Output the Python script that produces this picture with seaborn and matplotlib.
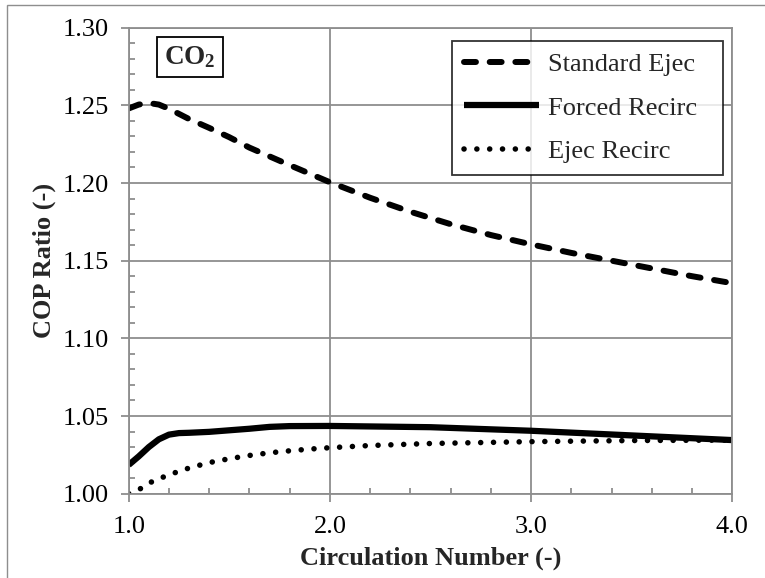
import matplotlib
matplotlib.use("Agg")
import matplotlib.pyplot as plt
import matplotlib.patches as mpatches
from matplotlib.ticker import MultipleLocator, FormatStrFormatter
import seaborn as sns

# Circulation number vs. COP ratio for CO2
std_x = [1.00, 1.05, 1.10, 1.15, 1.20, 1.30, 1.40, 1.50, 1.60, 1.80, 2.00,
         2.20, 2.40, 2.60, 2.80, 3.00, 3.20, 3.40, 3.60, 3.80, 4.00]
std_y = [1.2480, 1.2505, 1.2515, 1.2505, 1.2478, 1.2412, 1.2355, 1.2295, 1.2228,
         1.2115, 1.2005, 1.1905, 1.1815, 1.1735, 1.1665, 1.1605, 1.1550,
         1.1500, 1.1450, 1.1400, 1.1355]

forced_x = [1.00, 1.05, 1.10, 1.15, 1.20, 1.25, 1.30, 1.40, 1.50, 1.60, 1.70,
            1.80, 2.00, 2.50, 3.00, 3.50, 4.00]
forced_y = [1.0185, 1.0240, 1.0300, 1.0350, 1.0380, 1.0390, 1.0392, 1.0398,
            1.0408, 1.0418, 1.0430, 1.0435, 1.0436, 1.0428, 1.0405, 1.0375,
            1.0345]

ejrec_x = [1.00, 1.05, 1.10, 1.20, 1.30, 1.40, 1.50, 1.60, 1.70, 1.80, 1.90,
           2.00, 2.20, 2.50, 3.00, 3.50, 4.00]
ejrec_y = [1.0000, 1.0025, 1.0068, 1.0122, 1.0165, 1.0200, 1.0225, 1.0246,
           1.0263, 1.0276, 1.0287, 1.0296, 1.0310, 1.0323, 1.0335, 1.0342,
           1.0345]

series_labels = ["Standard Ejec", "Forced Recirc", "Ejec Recirc"]
x_ticks = [1.0, 2.0, 3.0, 4.0]

sns.set_theme(style="white")
plt.rcParams["font.family"] = ["Liberation Serif", "DejaVu Serif"]
plt.rcParams["mathtext.fontset"] = "custom"
plt.rcParams["mathtext.rm"] = "Liberation Serif"
plt.rcParams["mathtext.bf"] = "Liberation Serif:bold"

FS = 19
GRID = "#8e8e8e"

fig = plt.figure(figsize=(7.65, 5.78), dpi=100)
ax = fig.add_axes([0.1682, 0.1459, 0.9573 - 0.1682, 0.9521 - 0.1459])

sns.lineplot(x=std_x, y=std_y, ax=ax, color="black", lw=4.3,
             label=series_labels[0], sort=False)
line_std = ax.lines[-1]
line_std.set_dashes((2.0, 2.3))
line_std.set_dash_capstyle("round")

sns.lineplot(x=forced_x, y=forced_y, ax=ax, color="black", lw=4.5,
             label=series_labels[1], sort=False)
ax.lines[-1].set_solid_capstyle("butt")

sns.lineplot(x=ejrec_x, y=ejrec_y, ax=ax, color="black", lw=4.0,
             label=series_labels[2], sort=False)
line_dot = ax.lines[-1]
line_dot.set_dashes((0.01, 2.3))
line_dot.set_dash_capstyle("round")

ax.set_xlim(1.0, 4.0)
ax.set_ylim(1.00, 1.30)
ax.set_xticks(x_ticks)
ax.xaxis.set_major_formatter(FormatStrFormatter("%.1f"))
ax.xaxis.set_minor_locator(MultipleLocator(0.2))
ax.yaxis.set_major_locator(MultipleLocator(0.05))
ax.yaxis.set_major_formatter(FormatStrFormatter("%.2f"))
ax.yaxis.set_minor_locator(MultipleLocator(0.01))

ax.grid(True, which="major", color=GRID, lw=1.3)
ax.set_axisbelow(True)
for s in ax.spines.values():
    s.set_color(GRID)
    s.set_linewidth(1.3)

ax.tick_params(which="major", direction="out", length=6, width=1.3,
               color=GRID, labelsize=FS, labelcolor="black", pad=8)
ax.tick_params(axis="x", which="major", pad=10)
ax.tick_params(which="minor", direction="in", length=4.5, width=1.3,
               color=GRID)
ax.tick_params(axis="x", which="both", bottom=True, top=False)
ax.tick_params(axis="y", which="both", left=True, right=False)

ax.set_xlabel("Circulation Number (-)", fontsize=FS, fontweight="bold",
              labelpad=6)
ax.set_ylabel("COP Ratio (-)", fontsize=FS, fontweight="bold", labelpad=5)

# legend box spans a fixed region; entries are left aligned inside it
lx0, lx1 = 0.5356, 0.9846
ly1 = 0.9714
leg = ax.legend(loc="upper left", bbox_to_anchor=(lx0, 0.0, lx1 - lx0, ly1),
                mode="expand", borderaxespad=0, fontsize=FS, frameon=True,
                fancybox=False, handlelength=2.85, handletextpad=0.35,
                labelspacing=0.75, borderpad=0.45)
leg.get_frame().set_edgecolor("black")
leg.get_frame().set_linewidth(1.3)

ax.text(1.305, 1.2811, r"$\mathbf{CO_2}$", fontsize=FS + 0.5, ha="center",
        va="center",
        bbox=dict(boxstyle="square,pad=0.27", fc="white", ec="black",
                  lw=1.3))

# outer chart frame
frame = mpatches.Rectangle((7 / 765, -0.1), 1.2, 1 - 5.5 / 578 + 0.1,
                           transform=fig.transFigure, fill=False,
                           ec=GRID, lw=1.0)
fig.patches.append(frame)

fig.savefig("out.png", dpi=100)
